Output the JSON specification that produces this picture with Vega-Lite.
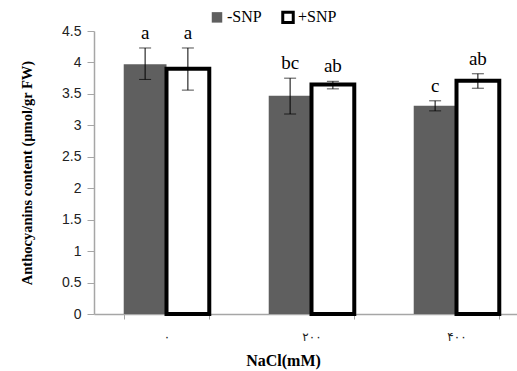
{
  "$schema": "https://vega.github.io/schema/vega-lite/v6.json",
  "autosize": {"type": "none"},
  "padding": {"left": 94, "top": 31, "right": 0, "bottom": 57},
  "width": 423,
  "height": 283,
  "background": "white",
  "config": {"view": {"stroke": null}},
  "data": {"values": [
    {"NaCl": "۰", "group": "-SNP", "mean": 3.97, "lo": 3.73, "hi": 4.23, "letter": "a"},
    {"NaCl": "۰", "group": "+SNP", "mean": 3.90, "lo": 3.56, "hi": 4.23, "letter": "a"},
    {"NaCl": "۲۰۰", "group": "-SNP", "mean": 3.47, "lo": 3.18, "hi": 3.75, "letter": "bc"},
    {"NaCl": "۲۰۰", "group": "+SNP", "mean": 3.65, "lo": 3.58, "hi": 3.70, "letter": "ab"},
    {"NaCl": "۴۰۰", "group": "-SNP", "mean": 3.31, "lo": 3.23, "hi": 3.39, "letter": "c"},
    {"NaCl": "۴۰۰", "group": "+SNP", "mean": 3.71, "lo": 3.59, "hi": 3.82, "letter": "ab"}
  ]},
  "encoding": {
    "x": {
      "field": "NaCl", "type": "nominal",
      "sort": ["۰", "۲۰۰", "۴۰۰"],
      "scale": {"domain": ["۰", "۲۰۰", "۴۰۰"], "range": [0, 435], "paddingInner": 0.41, "paddingOuter": 0.205},
      "axis": {
        "title": "NaCl(mM)", "titleFont": "Liberation Serif", "titleFontWeight": "bold", "titleFontSize": 16,
        "titleColor": "#000", "titleX": 189, "titlePadding": 10,
        "labelAngle": 0, "labelFont": "DejaVu Sans", "labelFontSize": 12, "labelColor": "#222", "labelPadding": 12,
        "domainColor": "#a6a6a6", "domainWidth": 1.5, "tickColor": "#a6a6a6", "tickBand": "extent", "tickSize": 5
      }
    },
    "xOffset": {"field": "group", "type": "nominal", "sort": ["-SNP", "+SNP"], "scale": {"domain": ["-SNP", "+SNP"], "paddingInner": 0, "paddingOuter": 0}}
  },
  "layer": [
    {
      "mark": {"type": "bar", "strokeWidth": 4, "strokeJoin": "miter"},
      "encoding": {
        "y": {
          "field": "mean", "type": "quantitative",
          "scale": {"domain": [0, 4.5], "nice": false},
          "axis": {
            "title": "Anthocyanins content (µmol/gr FW)", "titleFont": "Liberation Serif", "titleFontWeight": "bold",
            "titleFontSize": 14.5, "titleColor": "#000", "titlePadding": 27,
            "values": [0, 0.5, 1, 1.5, 2, 2.5, 3, 3.5, 4, 4.5], "format": "~g", "labelOverlap": false,
            "labelFont": "Liberation Sans", "labelFontSize": 14, "labelColor": "#222", "labelPadding": 6,
            "grid": false, "domainColor": "#a6a6a6", "domainWidth": 1.5, "tickColor": "#a6a6a6", "tickSize": 7
          }
        },
        "fill": {
          "field": "group", "type": "nominal",
          "scale": {"domain": ["-SNP", "+SNP"], "range": ["#5f5f5f", "#ffffff"]},
          "legend": {
            "title": null, "orient": "none", "legendX": 115, "legendY": -22, "direction": "horizontal",
            "symbolType": "square", "symbolSize": 110, "symbolStrokeWidth": 3,
            "labelFont": "Liberation Serif", "labelFontSize": 16, "labelColor": "#000", "labelOffset": 2, "columnPadding": 14
          }
        },
        "stroke": {
          "field": "group", "type": "nominal",
          "scale": {"domain": ["-SNP", "+SNP"], "range": ["transparent", "#000000"]},
          "legend": {
            "title": null, "orient": "none", "legendX": 115, "legendY": -22, "direction": "horizontal",
            "symbolType": "square", "symbolSize": 110, "symbolStrokeWidth": 3,
            "labelFont": "Liberation Serif", "labelFontSize": 16, "labelColor": "#000", "labelOffset": 2, "columnPadding": 14
          }
        }
      }
    },
    {
      "mark": {"type": "rule", "color": "#000", "strokeWidth": 1},
      "encoding": {
        "y": {"field": "lo", "type": "quantitative",
          "axis": {
            "title": "Anthocyanins content (µmol/gr FW)", "titleFont": "Liberation Serif", "titleFontWeight": "bold",
            "titleFontSize": 14.5, "titleColor": "#000", "titlePadding": 27,
            "values": [0, 0.5, 1, 1.5, 2, 2.5, 3, 3.5, 4, 4.5], "format": "~g", "labelOverlap": false,
            "labelFont": "Liberation Sans", "labelFontSize": 14, "labelColor": "#222", "labelPadding": 6,
            "grid": false, "domainColor": "#a6a6a6", "domainWidth": 1.5, "tickColor": "#a6a6a6", "tickSize": 7
          }},
        "y2": {"field": "hi"}
      }
    },
    {
      "mark": {"type": "tick", "color": "#000", "thickness": 1, "size": 12},
      "encoding": {
        "y": {"field": "lo", "type": "quantitative",
          "axis": {
            "title": "Anthocyanins content (µmol/gr FW)", "titleFont": "Liberation Serif", "titleFontWeight": "bold",
            "titleFontSize": 14.5, "titleColor": "#000", "titlePadding": 27,
            "values": [0, 0.5, 1, 1.5, 2, 2.5, 3, 3.5, 4, 4.5], "format": "~g", "labelOverlap": false,
            "labelFont": "Liberation Sans", "labelFontSize": 14, "labelColor": "#222", "labelPadding": 6,
            "grid": false, "domainColor": "#a6a6a6", "domainWidth": 1.5, "tickColor": "#a6a6a6", "tickSize": 7
          }}
      }
    },
    {
      "mark": {"type": "tick", "color": "#000", "thickness": 1, "size": 12},
      "encoding": {
        "y": {"field": "hi", "type": "quantitative",
          "axis": {
            "title": "Anthocyanins content (µmol/gr FW)", "titleFont": "Liberation Serif", "titleFontWeight": "bold",
            "titleFontSize": 14.5, "titleColor": "#000", "titlePadding": 27,
            "values": [0, 0.5, 1, 1.5, 2, 2.5, 3, 3.5, 4, 4.5], "format": "~g", "labelOverlap": false,
            "labelFont": "Liberation Sans", "labelFontSize": 14, "labelColor": "#222", "labelPadding": 6,
            "grid": false, "domainColor": "#a6a6a6", "domainWidth": 1.5, "tickColor": "#a6a6a6", "tickSize": 7
          }}
      }
    },
    {
      "mark": {"type": "text", "font": "Liberation Serif", "fontSize": 19, "baseline": "alphabetic", "dy": -9, "color": "#000"},
      "encoding": {
        "y": {"field": "hi", "type": "quantitative",
          "axis": {
            "title": "Anthocyanins content (µmol/gr FW)", "titleFont": "Liberation Serif", "titleFontWeight": "bold",
            "titleFontSize": 14.5, "titleColor": "#000", "titlePadding": 27,
            "values": [0, 0.5, 1, 1.5, 2, 2.5, 3, 3.5, 4, 4.5], "format": "~g", "labelOverlap": false,
            "labelFont": "Liberation Sans", "labelFontSize": 14, "labelColor": "#222", "labelPadding": 6,
            "grid": false, "domainColor": "#a6a6a6", "domainWidth": 1.5, "tickColor": "#a6a6a6", "tickSize": 7
          }},
        "text": {"field": "letter"}
      }
    }
  ]
}
